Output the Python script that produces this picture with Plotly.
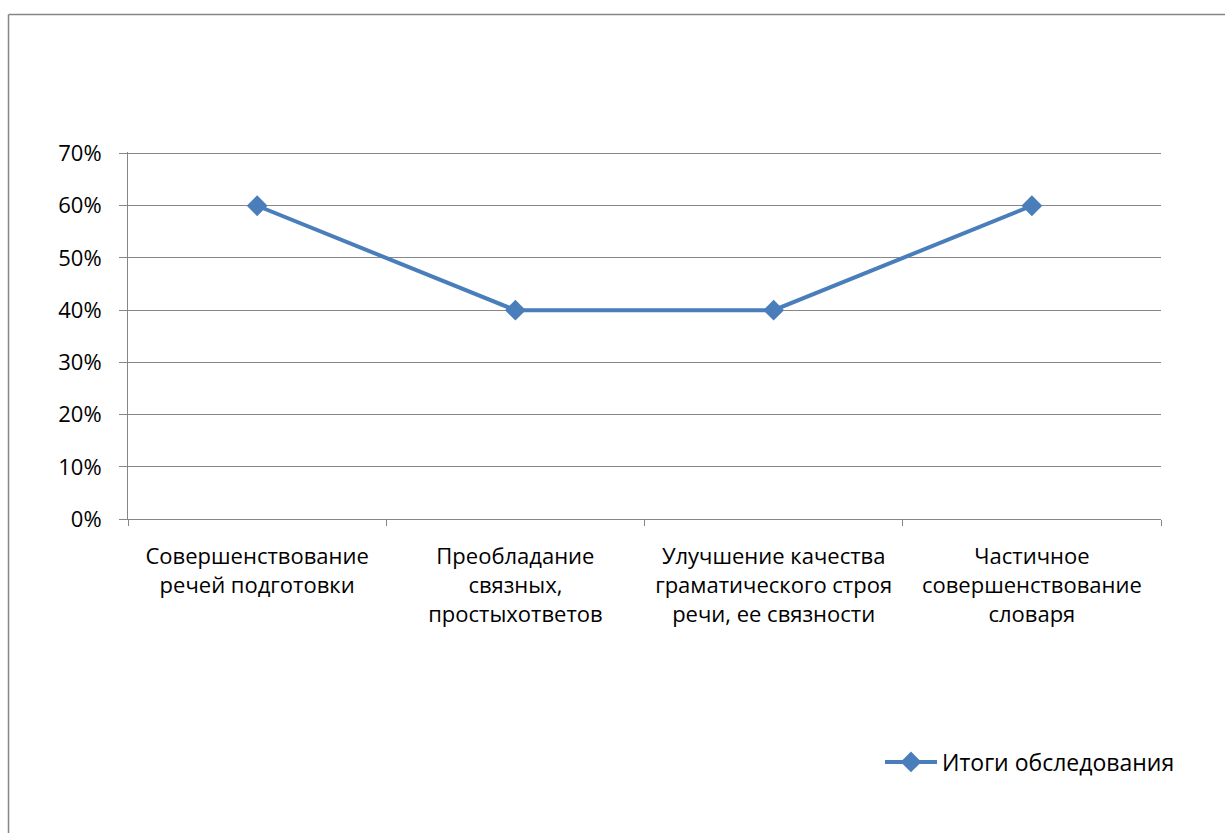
import plotly.graph_objects as go

categories = [
    "Совершенствование<br>речей подготовки",
    "Преобладание<br>связных,<br>простыхответов",
    "Улучшение качества<br>граматического строя<br>речи, ее связности",
    "Частичное<br>совершенствование<br>словаря",
]
values = [0.60, 0.40, 0.40, 0.60]
series_name = "Итоги обследования"
y_ticks = [0, 0.1, 0.2, 0.3, 0.4, 0.5, 0.6, 0.7]

W, H = 1225, 833
L, R, T, B = 128, 1161, 152, 519
FONT = "Open Sans"
GRAY = "#868686"
BLUE = "#4A7EBB"

fig = go.Figure()
fig.add_trace(go.Scatter(
    x=categories, y=values, mode="lines+markers", name=series_name,
    line=dict(color=BLUE, width=4),
    marker=dict(symbol="diamond", size=16, color=BLUE),
))

def px_x(p):
    return (p - L) / (R - L)

def px_y(p):
    return (B - p) / (B - T)

fig.update_layout(
    width=W, height=H,
    margin=dict(l=L, r=W - R, t=T, b=H - B, pad=0),
    paper_bgcolor="white", plot_bgcolor="white",
    font=dict(family=FONT, size=20, color="black"),
    showlegend=True,
    legend=dict(
        x=px_x(880), y=px_y(762), xanchor="left", yanchor="middle",
        font=dict(family=FONT, size=23, color="black"),
        bgcolor="rgba(0,0,0,0)", itemwidth=52,
    ),
    xaxis=dict(
        type="category", tickson="boundaries", ticks="outside", ticklen=6,
        tickcolor=GRAY, showline=True, linecolor=GRAY, linewidth=1,
        showgrid=False, range=[-0.5, 3.5], fixedrange=True,
        ticklabelstandoff=18,
        tickfont=dict(family=FONT, size=22),
    ),
    yaxis=dict(
        range=[0, 0.703], tickvals=y_ticks, tickformat=".0%",
        ticks="outside", ticklen=8, tickcolor=GRAY,
        showline=True, linecolor=GRAY, linewidth=1,
        showgrid=True, gridcolor=GRAY, gridwidth=1,
        zeroline=False, ticklabelstandoff=13,
        tickfont=dict(family=FONT, size=22),
    ),
    shapes=[
        dict(type="line", xref="paper", yref="paper",
             x0=px_x(8.5), x1=px_x(1225), y0=px_y(14.5), y1=px_y(14.5),
             line=dict(color=GRAY, width=1.5)),
        dict(type="line", xref="paper", yref="paper",
             x0=px_x(8.5), x1=px_x(8.5), y0=px_y(14.5), y1=px_y(833),
             line=dict(color=GRAY, width=1.5)),
    ],
)

fig.write_html("out.html")
